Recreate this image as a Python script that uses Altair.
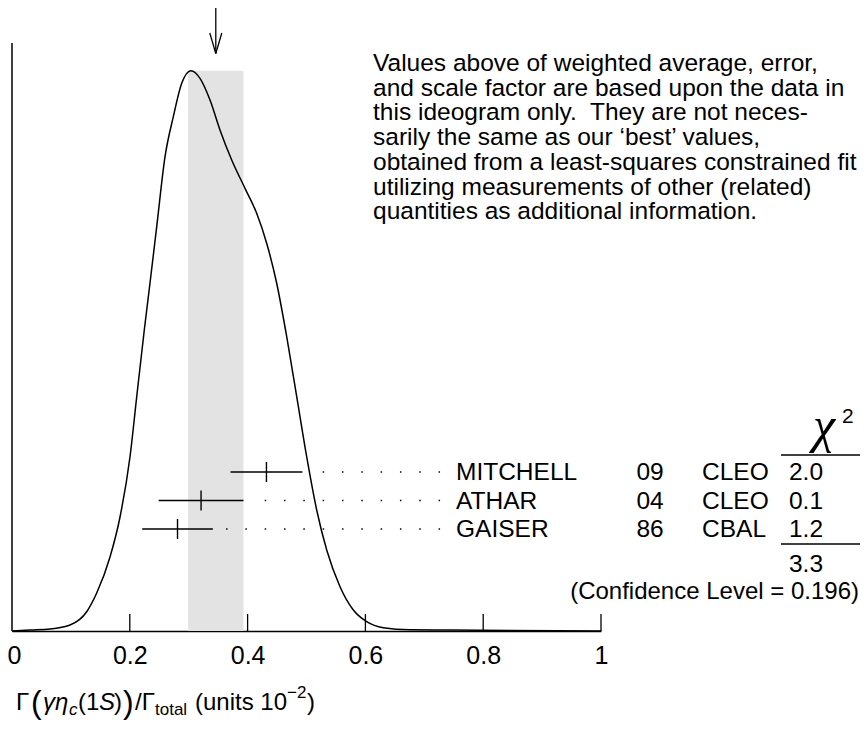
import altair as alt
import pandas as pd

# ---------------- data ----------------
names = ["MITCHELL", "ATHAR", "GAISER"]
years = ["09", "04", "86"]
collabs = ["CLEO", "CLEO", "CBAL"]
values = [0.432, 0.321, 0.281]
errors = [0.061, 0.072, 0.060]
chi2 = ["2.0", "0.1", "1.2"]
chi2_sum = "3.3"
conf_level = "0.196"
w_avg = 0.346
w_err = 0.047

curve_x = [0.0, 0.0306, 0.0645, 0.0985, 0.1268, 0.1438, 0.1664, 0.1834, 0.2003,
           0.2117, 0.2246, 0.2343, 0.2457, 0.2598, 0.2739, 0.2881, 0.3039, 0.3192,
           0.3362, 0.3531, 0.3730, 0.3956, 0.4154, 0.4324, 0.4494, 0.4664, 0.4834,
           0.5003, 0.5173, 0.5343, 0.5569, 0.5795, 0.6022, 0.6304, 0.6757, 0.7436, 1.0]
curve_y = [0.0, 0.0018, 0.0036, 0.0107, 0.0344, 0.0678, 0.1321, 0.2035, 0.3105,
           0.4176, 0.5372, 0.6211, 0.7216, 0.8465, 0.9179, 0.9775, 1.0, 0.9864,
           0.9477, 0.8942, 0.8406, 0.7901, 0.7455, 0.6920, 0.6206, 0.5253, 0.4182,
           0.3111, 0.2160, 0.1446, 0.0791, 0.0375, 0.0166, 0.0059, 0.0023, 0.0018, 0.0]

tick_values = [0, 0.2, 0.4, 0.6, 0.8, 1]

note_lines = [
    "Values above of weighted average, error,",
    "and scale factor are based upon the data in",
    "this ideogram only.\u00a0 They are not neces-",
    "sarily the same as our \u2018best\u2019 values,",
    "obtained from a least-squares constrained fit",
    "utilizing measurements of other (related)",
    "quantities as additional information.",
]

# ---------------- layout ----------------
W, H = 589, 623
TOTAL_W, TOTAL_H = 852, 716
FONT = "Liberation Sans"
FS = 24.5
ROW0, ROW_STEP = 464, 28.5
DOT_START, DOT_STEP = 0.7255, 0.0328

xscale = alt.Scale(domain=[0, 1], nice=False, zero=False)
yscale = alt.Scale(domain=[0, H / 560.3], nice=False, zero=True)
xaxis = alt.Axis(values=tick_values, format="~g", ticks=False, grid=False,
                 domainColor="black", domainWidth=1.5, labelFontSize=25,
                 labelFont=FONT, labelColor="black", labelPadding=12,
                 labelFlush=False,
                 labelAlign={"expr": "datum.value === 0 ? 'left' : 'center'"},
                 labelOffset={"condition": {"test": "datum.value === 0", "value": -5},
                              "value": 0},
                 title=None)


def X(field):
    return alt.X(field, type="quantitative", scale=xscale, axis=xaxis)


curve = pd.DataFrame({"x": curve_x, "y": curve_y})
meas = pd.DataFrame({
    "name": names, "year": years, "collab": collabs, "val": values, "err": errors,
    "chi2": chi2,
})
meas["lo"] = meas["val"] - meas["err"]
meas["hi"] = meas["val"] + meas["err"]
meas["ypix"] = [ROW0 + i * ROW_STEP for i in range(len(meas))]
meas["ytop"] = meas["ypix"] - 10
meas["ybot"] = meas["ypix"] + 10

# leader dots on a fixed grid, from the label column back to each error bar
dots = []
for _, r in meas.iterrows():
    k = 0
    while DOT_START - k * DOT_STEP > r["hi"] + 0.01:
        dots.append({"x": DOT_START - k * DOT_STEP, "ypix": r["ypix"]})
        k += 1
dots = pd.DataFrame(dots)

band = pd.DataFrame({"lo": [w_avg - w_err], "hi": [w_avg + w_err], "y0": [0.0], "y1": [1.0]})
avg = pd.DataFrame({"x": [w_avg], "xl": [w_avg - 0.0102], "xr": [w_avg + 0.0102]})
ticks = pd.DataFrame({"x": tick_values[1:]})

band_layer = alt.Chart(band).mark_rect(color="#e3e3e3").encode(
    x=X("lo"), x2="hi", y=alt.Y("y0:Q", scale=yscale, axis=None), y2="y1")

curve_layer = alt.Chart(curve).mark_line(color="black", strokeWidth=1.5,
                                         interpolate="monotone").encode(
    x=X("x"), y=alt.Y("y:Q", scale=yscale, axis=None))

left_axis = alt.Chart(band).mark_rule(color="black", strokeWidth=1.5).encode(
    x=alt.value(0), y=alt.value(35), y2=alt.value(H))

tick_layer = alt.Chart(ticks).mark_rule(color="black", strokeWidth=1.3).encode(
    x=X("x"), y=alt.value(H - 17), y2=alt.value(H))

arrow_shaft = alt.Chart(avg).mark_rule(color="black", strokeWidth=1.3).encode(
    x=X("x"), y=alt.value(0), y2=alt.value(45.5))
arrow_l = alt.Chart(avg).mark_rule(color="black", strokeWidth=1.3).encode(
    x=X("xl"), x2="x", y=alt.value(25), y2=alt.value(45.5))
arrow_r = alt.Chart(avg).mark_rule(color="black", strokeWidth=1.3).encode(
    x=X("xr"), x2="x", y=alt.value(25), y2=alt.value(45.5))

err_layer = alt.Chart(meas).mark_rule(color="black", strokeWidth=1.4).encode(
    x=X("lo"), x2="hi", y=alt.Y("ypix:Q", scale=None))
ctr_layer = alt.Chart(meas).mark_rule(color="black", strokeWidth=1.4).encode(
    x=X("val"), y=alt.Y("ytop:Q", scale=None), y2="ybot")
dot_layer = alt.Chart(dots).mark_square(color="black", size=2.2, opacity=1).encode(
    x=X("x"), y=alt.Y("ypix:Q", scale=None))


def col_text(field, xpix, align):
    return alt.Chart(meas).mark_text(font=FONT, fontSize=FS, align=align,
                                     baseline="middle", color="black", dy=1).encode(
        x=alt.value(xpix), y=alt.Y("ypix:Q", scale=None), text=f"{field}:N")


name_layer = col_text("name", 444, "left")
year_layer = col_text("year", 638, "center")
coll_layer = col_text("collab", 690, "left")
chi_layer = col_text("chi2", 794, "center")

hdr = pd.DataFrame({"a": [0]})
chi_sym = alt.Chart(hdr).mark_text(font="Liberation Serif", fontSize=50, fontStyle="italic",
                                   align="center", baseline="alphabetic", color="black").encode(
    x=alt.value(812), y=alt.value(434), text=alt.value("\u03c7"))
chi_sup = alt.Chart(hdr).mark_text(font=FONT, fontSize=21, align="left",
                                   baseline="middle", color="black").encode(
    x=alt.value(830), y=alt.value(409), text=alt.value("2"))
line1 = alt.Chart(hdr).mark_rule(color="black", strokeWidth=1.3).encode(
    x=alt.value(769), x2=alt.value(TOTAL_W), y=alt.value(447))
line2 = alt.Chart(hdr).mark_rule(color="black", strokeWidth=1.3).encode(
    x=alt.value(769), x2=alt.value(TOTAL_W), y=alt.value(536))
sum_layer = alt.Chart(hdr).mark_text(font=FONT, fontSize=FS, align="center",
                                     baseline="middle", color="black").encode(
    x=alt.value(794), y=alt.value(557), text=alt.value(chi2_sum))
conf_layer = alt.Chart(hdr).mark_text(font=FONT, fontSize=24, align="right",
                                      baseline="middle", color="black").encode(
    x=alt.value(TOTAL_W - 5), y=alt.value(584),
    text=alt.value(f"(Confidence Level = {conf_level})"))

notes = pd.DataFrame({"t": note_lines, "ypix": [56 + 24.7 * i for i in range(len(note_lines))]})
note_layer = alt.Chart(notes).mark_text(font=FONT, fontSize=24.5, align="left",
                                        baseline="middle", color="black").encode(
    x=alt.value(361), y=alt.Y("ypix:Q", scale=None), text="t:N")

# axis title pieces: (text, x, y, size, style)
TY = 695
title_parts = [
    ("\u0393", 4, TY, 24, "normal"),
    ("(", 19, TY, 32, "normal"),
    ("\u03b3\u03b7", 31, TY, 24, "italic"),
    ("c", 57, TY + 7, 17, "italic"),
    ("(1", 66, TY, 24, "normal"),
    ("S", 87, TY, 24, "italic"),
    (")", 102, TY, 24, "normal"),
    (")", 111, TY, 32, "normal"),
    ("/\u0393", 123, TY, 24, "normal"),
    ("total", 143, TY + 7, 17, "normal"),
    ("(units 10", 183, TY, 24, "normal"),
    ("\u22122", 275, TY - 10, 17, "normal"),
    (")", 295, TY, 24, "normal"),
]
title_layers = []
for t, xp, yp, sz, st in title_parts:
    title_layers.append(
        alt.Chart(hdr).mark_text(font=FONT, fontSize=sz, fontStyle=st, align="left",
                                 baseline="middle", color="black").encode(
            x=alt.value(xp), y=alt.value(yp), text=alt.value(t)))

chart = alt.layer(
    band_layer, curve_layer, left_axis, tick_layer, arrow_shaft, arrow_l, arrow_r,
    err_layer, ctr_layer, dot_layer, name_layer, year_layer, coll_layer, chi_layer,
    chi_sym, chi_sup, line1, line2, sum_layer, conf_layer, note_layer, *title_layers,
).properties(
    width=W, height=H, autosize=alt.AutoSizeParams(type="none"),
    padding={"left": 4, "top": 0, "right": TOTAL_W - 4 - W, "bottom": TOTAL_H - H},
    background="white",
).configure_view(stroke=None, strokeWidth=0)

chart.save("out.html", embed_options={"renderer": "svg", "actions": False})
